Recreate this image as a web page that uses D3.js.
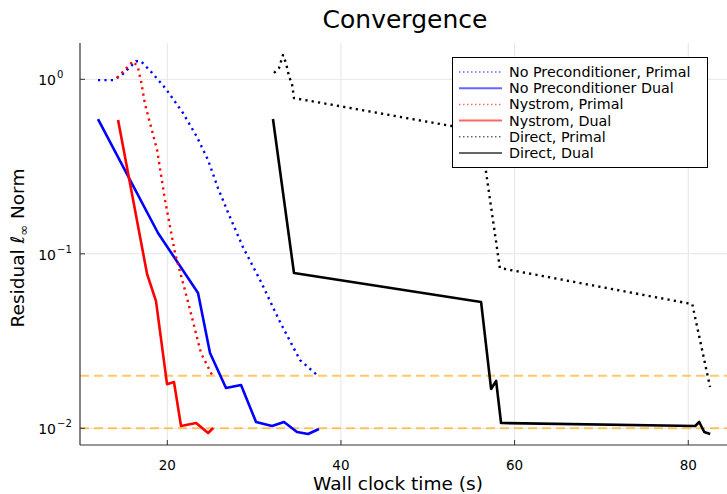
<!DOCTYPE html>
<html>
<head>
<meta charset="utf-8">
<script src="https://cdn.jsdelivr.net/npm/d3@7.9.0/dist/d3.min.js"></script>
<style>
  body { margin: 0; background: #fff; }
  svg { font-family: "DejaVu Sans", sans-serif; }
</style>
</head>
<body>
<div id="chart"></div>
<script>
// residual history, [time (s), residual]
const noPrecPrimal = [
  [12.02, 0.99], [13.75, 0.99], [14.78, 1.06], [16.39, 1.27], [16.97, 1.27],
  [18.24, 1.09], [19.85, 0.88], [21.81, 0.641], [23.42, 0.467], [24.69, 0.345],
  [25.84, 0.238], [27.11, 0.167], [28.72, 0.109], [30.68, 0.0708], [32.98, 0.0407],
  [35.28, 0.0246], [37.24, 0.0202]
];
const noPrecDual = [
  [12.02, 0.592], [18.93, 0.1316], [23.54, 0.0596], [24.92, 0.027], [26.76, 0.017],
  [28.49, 0.0177], [30.22, 0.01087], [32.06, 0.01031], [33.44, 0.01087],
  [34.94, 0.00952], [36.21, 0.00928], [37.47, 0.00991]
];
const nystromPrimal = [
  [14.22, 1.02], [16.06, 1.27], [16.6, 1.18], [16.97, 0.978], [17.43, 0.722],
  [18.82, 0.394], [19.74, 0.203], [20.89, 0.101], [22.27, 0.0558], [23.88, 0.027],
  [25.26, 0.0197]
];
const nystromDual = [
  [14.33, 0.584], [17.67, 0.0766], [18.7, 0.0536], [19.97, 0.0179], [20.77, 0.0184],
  [21.58, 0.0103], [23.32, 0.01072], [24.7, 0.0094], [25.28, 0.01004]
];
const directPrimal = [
  [32.29, 1.087], [32.86, 1.16], [33.32, 1.378], [33.67, 1.24], [34.02, 1.04],
  [34.36, 0.94], [34.59, 0.781], [56.03, 0.505], [58.3, 0.0829], [80.46, 0.0515],
  [82.51, 0.01725]
];
const directDual = [
  [32.17, 0.592], [34.59, 0.0776], [56.14, 0.0529], [57.29, 0.0168], [57.87, 0.01867],
  [58.44, 0.01072], [80.8, 0.01031], [81.26, 0.01087], [81.84, 0.00952], [82.53, 0.00928]
];
const tolerances = [0.01, 0.02];

const xTicks = [20, 40, 60, 80];
const yTicks = [1, 0.1, 0.01];
const yTickExp = ['0', '\u22121', '\u22122'];

const series = [
  { name: 'No Preconditioner, Primal', data: noPrecPrimal, color: 'blue', dotted: true },
  { name: 'No Preconditioner Dual', data: noPrecDual, color: 'blue', dotted: false },
  { name: 'Nystrom, Primal', data: nystromPrimal, color: 'red', dotted: true },
  { name: 'Nystrom, Dual', data: nystromDual, color: 'red', dotted: false },
  { name: 'Direct, Primal', data: directPrimal, color: 'black', dotted: true },
  { name: 'Direct, Dual', data: directDual, color: 'black', dotted: false },
];

const width = 727;
const height = 494;
const area = { left: 80, right: 727, top: 43, bottom: 445 };

const svg = d3.select('#chart')
  .append('svg')
  .attr('width', width)
  .attr('height', height);

const xScale = d3.scaleLinear()
  .domain([9.946, 84.46])
  .range([area.left, area.right]);

const yScale = d3.scaleLog()
  .domain([0.00802, 1.615])
  .range([area.bottom, area.top]);

svg.append('defs').append('clipPath')
  .attr('id', 'plot-clip')
  .append('rect')
  .attr('x', area.left)
  .attr('y', area.top)
  .attr('width', area.right - area.left)
  .attr('height', area.bottom - area.top);

// gridlines
const grid = svg.append('g').attr('class', 'grid');
grid.selectAll('.vgrid')
  .data(xTicks)
  .join('line')
  .attr('x1', d => xScale(d))
  .attr('x2', d => xScale(d))
  .attr('y1', area.top)
  .attr('y2', area.bottom)
  .attr('stroke', '#e6e6e6')
  .attr('stroke-width', 1);
grid.selectAll('.hgrid')
  .data(yTicks)
  .join('line')
  .attr('x1', area.left)
  .attr('x2', area.right)
  .attr('y1', d => yScale(d))
  .attr('y2', d => yScale(d))
  .attr('stroke', '#e6e6e6')
  .attr('stroke-width', 1);

// tolerance lines
svg.append('g')
  .selectAll('line')
  .data(tolerances)
  .join('line')
  .attr('x1', area.left)
  .attr('x2', area.right)
  .attr('y1', d => yScale(d))
  .attr('y2', d => yScale(d))
  .attr('stroke', 'orange')
  .attr('stroke-opacity', 0.6)
  .attr('stroke-width', 2)
  .attr('stroke-dasharray', '9,5');

// series
const line = d3.line()
  .x(d => xScale(d[0]))
  .y(d => yScale(d[1]));

svg.append('g')
  .attr('clip-path', 'url(#plot-clip)')
  .selectAll('path')
  .data(series)
  .join('path')
  .attr('d', d => line(d.data))
  .attr('fill', 'none')
  .attr('stroke', d => d.color)
  .attr('stroke-width', d => d.dotted ? 2.4 : 2.6)
  .attr('stroke-linejoin', 'round')
  .attr('stroke-dasharray', d => d.dotted ? '2.2,4.2' : null);

// axes
const axisColor = '#333';
svg.append('line')
  .attr('x1', area.left).attr('x2', area.left)
  .attr('y1', area.top).attr('y2', area.bottom)
  .attr('stroke', axisColor).attr('stroke-width', 1.2);
svg.append('line')
  .attr('x1', area.left).attr('x2', area.right)
  .attr('y1', area.bottom).attr('y2', area.bottom)
  .attr('stroke', axisColor).attr('stroke-width', 1.2);

// x ticks
const xt = svg.append('g').selectAll('g').data(xTicks).join('g');
xt.append('line')
  .attr('x1', d => xScale(d)).attr('x2', d => xScale(d))
  .attr('y1', area.bottom).attr('y2', area.bottom - 5)
  .attr('stroke', axisColor);
xt.append('text')
  .attr('x', d => xScale(d))
  .attr('y', area.bottom + 25)
  .attr('text-anchor', 'middle')
  .attr('font-size', 13.5)
  .attr('fill', '#000')
  .text(d => d);

// y ticks (10^n)
const yt = svg.append('g').selectAll('g').data(yTicks).join('g');
yt.append('line')
  .attr('x1', area.left).attr('x2', area.left + 5)
  .attr('y1', d => yScale(d)).attr('y2', d => yScale(d))
  .attr('stroke', axisColor);
yt.append('text')
  .attr('x', 56)
  .attr('y', d => yScale(d) + 6)
  .attr('text-anchor', 'end')
  .attr('font-size', 14)
  .attr('fill', '#000')
  .text('10');
yt.append('text')
  .attr('x', 57)
  .attr('y', d => yScale(d) - 1)
  .attr('font-size', 10)
  .attr('fill', '#000')
  .text((d, i) => yTickExp[i]);

// title and labels
svg.append('text')
  .attr('x', 405)
  .attr('y', 28)
  .attr('text-anchor', 'middle')
  .attr('font-size', 25)
  .text('Convergence');

svg.append('text')
  .attr('x', 398)
  .attr('y', 490)
  .attr('text-anchor', 'middle')
  .attr('font-size', 18.5)
  .text('Wall clock time (s)');

const ylab = svg.append('text')
  .attr('transform', 'translate(24, 248) rotate(-90)')
  .attr('text-anchor', 'middle')
  .attr('font-size', 18.5);
ylab.append('tspan').text('Residual ');
ylab.append('tspan').attr('font-style', 'italic').text('\u2113');
ylab.append('tspan').attr('font-size', 13).attr('dy', 4).text('\u221E');
ylab.append('tspan').attr('dy', -4).text(' Norm');

// legend
const legend = svg.append('g').attr('class', 'legend');
legend.append('rect')
  .attr('x', 452.5)
  .attr('y', 57.5)
  .attr('width', 255)
  .attr('height', 110)
  .attr('fill', '#fff')
  .attr('stroke', '#000')
  .attr('stroke-width', 1);

const rows = legend.selectAll('g')
  .data(series)
  .join('g')
  .attr('transform', (d, i) => `translate(0, ${72 + i * 16.2})`);
rows.append('line')
  .attr('x1', 459).attr('x2', 502)
  .attr('y1', 0).attr('y2', 0)
  .attr('stroke', d => d.color)
  .attr('stroke-opacity', 0.6)
  .attr('stroke-width', d => d.dotted ? 1.5 : 2)
  .attr('stroke-dasharray', d => d.dotted ? '1.5,2.5' : null);
rows.append('text')
  .attr('x', 509)
  .attr('y', 5)
  .attr('font-size', 14.3)
  .attr('fill', '#000')
  .text(d => d.name);
</script>
</body>
</html>
